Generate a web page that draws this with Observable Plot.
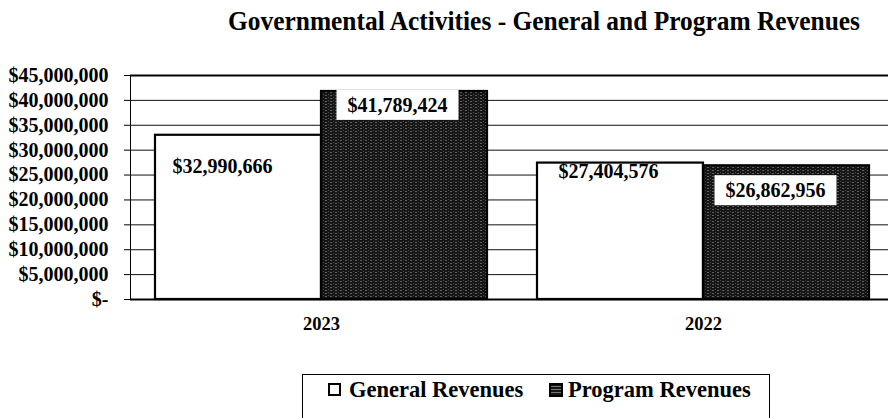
<!DOCTYPE html>
<html>
<head>
<meta charset="utf-8">
<script src="https://cdn.jsdelivr.net/npm/d3@7"></script>
<script src="https://cdn.jsdelivr.net/npm/@observablehq/plot@0.6"></script>
<style>
  html, body { margin: 0; padding: 0; background: #fff; }
  body { width: 888px; height: 418px; overflow: hidden; position: relative;
         font-family: "Liberation Serif", "Times New Roman", serif; font-weight: bold; color: #000; }
  #title { position: relative; height: 50px; }
  #title span { position: absolute; left: 228px; top: 7px; font-size: 28px; line-height: 28px;
                font-family: "Liberation Serif", serif; white-space: nowrap; transform-origin: 0 50%; }
  #chart { position: absolute; left: 0; top: 50px; }
  #legend { position: absolute; left: 302px; top: 374px; width: 468px; height: 60px;
            border: 1px solid #000; box-sizing: border-box; }
  #legend .mk { position: absolute; top: 8px; width: 13px; height: 13px; box-sizing: border-box; }
  #legend .tx { position: absolute; top: 4px; font-size: 22.5px; line-height: 22px; white-space: nowrap;
                font-family: "Liberation Serif", serif; font-weight: bold; }
</style>
</head>
<body>
<div id="title"><span>Governmental Activities - General and Program Revenues</span></div>
<div id="chart"></div>
<div id="legend"></div>
<script>
// ---- data ----
const years = ["2023", "2022"];
const seriesNames = ["General Revenues", "Program Revenues"];
const generalRevenues = [32990666, 27404576];
const programRevenues = [41789424, 26862956];
const yTicks = [0, 5000000, 10000000, 15000000, 20000000, 25000000, 30000000, 35000000, 40000000, 45000000];

const rows = [];
years.forEach((yr, i) => {
  rows.push({year: yr, series: seriesNames[0], value: generalRevenues[i]});
  rows.push({year: yr, series: seriesNames[1], value: programRevenues[i]});
});

const money = v => "$" + d3.format(",")(v);
const isGen = d => d.series === seriesNames[0];
const isProg = d => d.series === seriesNames[1];
const labelStyle = {fontSize: 20, fontWeight: "bold", fill: "#000"};

const plot = Plot.plot({
  width: 888,
  height: 310,
  marginLeft: 130,
  marginRight: 0,
  marginTop: 25,
  marginBottom: 61,
  style: {fontFamily: "'Liberation Serif', 'Times New Roman', serif", fontSize: "20px",
          fontWeight: "bold", color: "#000", background: "transparent"},
  facet: {data: rows, x: "year"},
  fx: {domain: years, range: [130, 894], padding: 0, tickSize: 0, tickPadding: 17, label: null},
  x: {domain: seriesNames, paddingInner: 0, paddingOuter: 0.15, axis: null},
  y: {domain: [0, 45000000], ticks: yTicks, tickFormat: d => d === 0 ? "$-" : money(d),
      tickSize: 6, tickPadding: 16, label: null, line: true},
  marks: [
    Plot.ruleY(yTicks.filter(d => d > 0 && d < 45000000), {stroke: "#111", strokeWidth: 1}),
    Plot.ruleY([45000000], {stroke: "#000", strokeWidth: 2.2}),
    Plot.barY(rows, {filter: isGen, x: "series", y: "value", fill: "#fff", stroke: "#000", strokeWidth: 2.2}),
    Plot.barY(rows, {filter: isProg, x: "series", y: "value", fill: "url(#speckle)", stroke: "#000", strokeWidth: 2.2}),
    Plot.ruleY([0], {stroke: "#000", strokeWidth: 2.2}),
    Plot.text(rows, {filter: d => isGen(d) && d.year === years[0], x: "series", y: "value", text: d => money(d.value), dx: -16, dy: 31, ...labelStyle}),
    Plot.text(rows, {filter: d => isGen(d) && d.year === years[1], x: "series", y: "value", text: d => money(d.value), dx: -12, dy: 9, ...labelStyle}),
    Plot.text(rows, {filter: d => isProg(d) && d.year === years[0], x: "series", y: "value", text: d => money(d.value), dx: -7, dy: 14, ...labelStyle}),
    Plot.text(rows, {filter: d => isProg(d) && d.year === years[1], x: "series", y: "value", text: d => money(d.value), dx: -11, dy: 25, ...labelStyle})
  ]
});

document.getElementById("chart").appendChild(plot);

// category labels slightly smaller than value labels
d3.select(plot).selectAll("text").filter(function() { return years.includes(this.textContent); })
  .style("font-size", "18.5px");

// texture for the program revenue bars
const svg = d3.select(plot);
const defs = svg.insert("defs", ":first-child");
const pat = defs.append("pattern").attr("id", "speckle").attr("patternUnits", "userSpaceOnUse")
  .attr("width", 5).attr("height", 3);
pat.append("rect").attr("width", 5).attr("height", 3).attr("fill", "#151515");
pat.append("rect").attr("x", 0).attr("y", 0).attr("width", 2).attr("height", 1).attr("fill", "#606060");
pat.append("rect").attr("x", 3).attr("y", 2).attr("width", 1).attr("height", 1).attr("fill", "#4a4a4a");

// white boxes behind the labels that sit on the dark bars
const boxed = programRevenues.map(money);
svg.selectAll("text").filter(function() { return boxed.includes(this.textContent); }).each(function() {
  const b = this.getBBox();
  const node = this;
  const r = d3.select(node.parentNode).insert("rect", () => node)
    .attr("x", b.x - 11).attr("y", b.y - 4)
    .attr("width", b.width + 22).attr("height", b.height + 8)
    .attr("fill", "#fff");
  const tr = node.getAttribute("transform");
  if (tr) r.attr("transform", tr);
});

// fit the title to the reference width
const t = document.querySelector("#title span");
const w = t.getBoundingClientRect().width;
t.style.transform = `scaleX(${632 / w})`;

// legend
const legend = d3.select("#legend");
legend.append("div").attr("class", "mk").style("left", "25px").style("border", "2px solid #000").style("background", "#fff");
legend.append("div").attr("class", "tx").style("left", "46px").text(seriesNames[0]);
legend.append("div").attr("class", "mk").style("left", "246px").style("width", "14px").style("height", "14px")
  .style("border", "2px solid #000").style("background", "repeating-linear-gradient(0deg,#151515 0 2px,#777 2px 3px)");
legend.append("div").attr("class", "tx").style("left", "265px").text(seriesNames[1]);
</script>
</body>
</html>
